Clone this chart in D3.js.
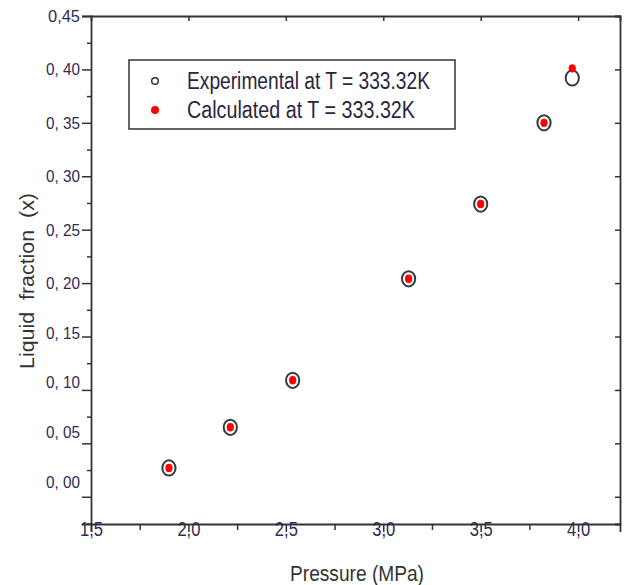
<!DOCTYPE html>
<html>
<head>
<meta charset="utf-8">
<script src="https://cdn.jsdelivr.net/npm/d3@7"></script>
<style>
  body { margin: 0; background: #fff; }
  text { font-family: "Liberation Sans", Arial, sans-serif; fill: #333; }
</style>
</head>
<body>
<div id="chart"></div>
<script>
// values
const pressure = [1.90, 2.215, 2.535, 3.13, 3.50, 3.825, 3.97];
const xExperimental = [0.027, 0.065, 0.109, 0.204, 0.274, 0.350, 0.392];
const xCalculated = [0.027, 0.065, 0.109, 0.204, 0.274, 0.350, 0.401];

const xMajor = [1.5, 2.0, 2.5, 3.0, 3.5, 4.0];
const xMinor = [1.75, 2.25, 2.75, 3.25, 3.75];
const xTickLabels = ["1,5", "2,0", "2,5", "3,0", "3,5", "4,0"];

const yMajor = [0.00, 0.05, 0.10, 0.15, 0.20, 0.25, 0.30, 0.35, 0.40, 0.45];
const yMinor = [-0.025, 0.025, 0.075, 0.125, 0.175, 0.225, 0.275, 0.325, 0.375, 0.425];
const yTickLabels = ["0, 00", "0, 05", "0, 10", "0, 15", "0, 20", "0, 25", "0, 30", "0, 35", "0, 40", "0,45"];

const legendLabels = ["Experimental at T = 333.32K", "Calculated at T = 333.32K"];

const W = 627, H = 585;
const margin = {top: 16, right: 7, bottom: 61, left: 91};

const svg = d3.select("#chart").append("svg")
    .attr("width", W)
    .attr("height", H);

const x = d3.scaleLinear().domain([1.5, 4.215]).range([margin.left, W - margin.right]);
const y = d3.scaleLinear().domain([-0.0255, 0.45]).range([H - margin.bottom, margin.top]);

const axisColor = "#333";

// minor ticks (outside on left and bottom)
svg.append("g")
    .attr("transform", `translate(0,${H - margin.bottom})`)
    .call(d3.axisBottom(x).tickValues(xMinor).tickSize(6).tickFormat(""))
    .call(g => g.select(".domain").remove());
svg.append("g")
    .attr("transform", `translate(${margin.left},0)`)
    .call(d3.axisLeft(y).tickValues(yMinor).tickSize(4).tickFormat(""))
    .call(g => g.select(".domain").remove());

// bottom axis
const gx = svg.append("g")
    .attr("transform", `translate(0,${H - margin.bottom})`)
    .call(d3.axisBottom(x).tickValues(xMajor).tickSize(8).tickPadding(1)
        .tickFormat((d, i) => xTickLabels[i]));
gx.selectAll("text")
    .attr("font-size", 20)
    .attr("textLength", 23)
    .attr("lengthAdjust", "spacingAndGlyphs")
    .attr("dy", "0.62em")
    .attr("y", 0)
    .style("fill", "#332a55");

// left axis
const gy = svg.append("g")
    .attr("transform", `translate(${margin.left},0)`)
    .call(d3.axisLeft(y).tickValues(yMajor).tickSize(9).tickPadding(2)
        .tickFormat((d, i) => yTickLabels[i]));
gy.selectAll("text")
    .attr("font-size", 17)
    .attr("textLength", d => d === 0.45 ? 32 : 34)
    .attr("lengthAdjust", "spacingAndGlyphs")
    .attr("dy", d => d < 0.2 ? `${0.32 - (0.2 - d) * 4.4}em` : "0.32em")
    .style("fill", "#332a55");

// top and right axes, ticks inward
svg.append("g")
    .attr("transform", `translate(0,${margin.top})`)
    .call(d3.axisTop(x).tickValues(xMajor.slice(1)).tickSize(-5).tickFormat(""));
svg.append("g")
    .attr("transform", `translate(${W - margin.right},0)`)
    .call(d3.axisRight(y).tickValues(yMajor).tickSize(-5).tickFormat(""));

svg.selectAll(".domain, .tick line")
    .attr("stroke", axisColor)
    .attr("stroke-width", 1.5);
svg.selectAll(".domain").attr("stroke-width", 1.8);

// axis titles
svg.append("text")
    .attr("x", 357)
    .attr("y", 581)
    .attr("text-anchor", "middle")
    .attr("font-size", 22)
    .attr("textLength", 134)
    .attr("lengthAdjust", "spacingAndGlyphs")
    .text("Pressure (MPa)");

svg.append("text")
    .attr("transform", "translate(34,281) rotate(-90)")
    .attr("text-anchor", "middle")
    .attr("font-size", 20)
    .attr("textLength", 176)
    .attr("lengthAdjust", "spacingAndGlyphs")
    .style("white-space", "pre")
    .text("Liquid  fraction  (x)");

// experimental points: open circles
svg.append("g").selectAll("ellipse")
    .data(pressure.map((p, i) => ({p: p, v: xExperimental[i]})))
    .join("ellipse")
    .attr("cx", d => x(d.p))
    .attr("cy", d => y(d.v))
    .attr("rx", 6.6)
    .attr("ry", 7.6)
    .attr("fill", "#fff")
    .attr("stroke", "#3a3a3a")
    .attr("stroke-width", 2);

// calculated points: red dots
svg.append("g").selectAll("ellipse")
    .data(pressure.map((p, i) => ({p: p, v: xCalculated[i]})))
    .join("ellipse")
    .attr("cx", d => x(d.p))
    .attr("cy", d => y(d.v))
    .attr("rx", 3.6)
    .attr("ry", 4.2)
    .attr("fill", "#ff0000");

// legend
const legend = svg.append("g");
legend.append("rect")
    .attr("x", 129)
    .attr("y", 60)
    .attr("width", 326)
    .attr("height", 69)
    .attr("fill", "#fff")
    .attr("stroke", "#333")
    .attr("stroke-width", 1.5);
legend.append("circle")
    .attr("cx", 155).attr("cy", 81).attr("r", 3.3)
    .attr("fill", "#fff").attr("stroke", "#333").attr("stroke-width", 1.5);
legend.append("circle")
    .attr("cx", 155).attr("cy", 110).attr("r", 4)
    .attr("fill", "#ff0000");
legend.selectAll("text.lab")
    .data(legendLabels)
    .join("text")
    .attr("class", "lab")
    .attr("x", 187)
    .attr("y", (d, i) => 89 + i * 29)
    .attr("font-size", 23)
    .attr("textLength", (d, i) => i === 0 ? 243 : 228)
    .attr("lengthAdjust", "spacingAndGlyphs")
    .style("fill", "#2a2540")
    .text(d => d);
</script>
</body>
</html>
